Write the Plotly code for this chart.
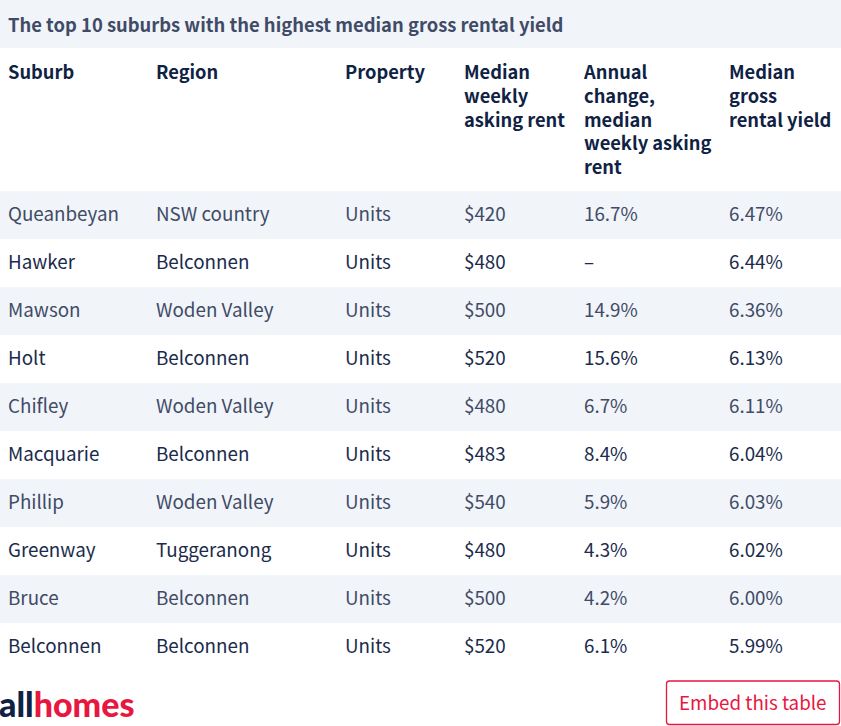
import plotly.graph_objects as go

# table contents
title = "The top 10 suburbs with the highest median gross rental yield"
headers = ["Suburb", "Region", "Property", "Median<br>weekly<br>asking rent",
           "Annual<br>change,<br>median<br>weekly asking<br>rent", "Median<br>gross<br>rental yield"]
suburbs = ["Queanbeyan", "Hawker", "Mawson", "Holt", "Chifley", "Macquarie",
           "Phillip", "Greenway", "Bruce", "Belconnen"]
regions = ["NSW country", "Belconnen", "Woden Valley", "Belconnen", "Woden Valley",
           "Belconnen", "Woden Valley", "Tuggeranong", "Belconnen", "Belconnen"]
properties = ["Units"] * 10
rents = ["$420", "$480", "$500", "$520", "$480", "$483", "$540", "$480", "$500", "$520"]
changes = ["16.7%", "–", "14.9%", "15.6%", "6.7%", "8.4%", "5.9%", "4.3%", "4.2%", "6.1%"]
yields = ["6.47%", "6.44%", "6.36%", "6.13%", "6.11%", "6.04%", "6.03%", "6.02%", "6.00%", "5.99%"]
col_widths = [148, 189, 119, 120, 145, 120]

W, H = 841, 726
FONT = "Noto Sans CJK SC"
NAVY = "#0f2244"
BODY_NAVY = "#1a2b4c"
SLATE = "#3f4b67"
BAND = "#f1f4f8"
RED = "#e8173f"
BODY_SIZE = 18.8


def px(x):
    return x / W


def py(y):
    return 1 - y / H


def body(col):
    # a thin blank first line pushes the text down to the middle of the 48px row
    return [f'<br><span style="font-size:{BODY_SIZE}px">{v}</span>' for v in col]


n = len(suburbs)
row_fill = [BAND if i % 2 == 0 else "white" for i in range(n)]
row_font = [SLATE if i % 2 == 0 else BODY_NAVY for i in range(n)]

fig = go.Figure(go.Table(
    columnwidth=col_widths,
    domain=dict(x=[0, 1], y=[py(672), py(50)]),
    header=dict(
        values=[f"<b>{h}</b>" for h in headers],
        height=141,
        align="left",
        fill_color="white",
        line_width=0,
        font=dict(family=FONT, size=18.3, color=NAVY),
    ),
    cells=dict(
        values=[body(c) for c in [suburbs, regions, properties, rents, changes, yields]],
        height=48,
        align="left",
        fill_color=[row_fill] * 6,
        line_width=0,
        font=dict(family=FONT, size=9.5, color=[row_font] * 6),
    ),
))

# title band, logo and embed button are placed by page pixels
fig.add_shape(type="rect", xref="paper", yref="paper", x0=0, x1=1, y0=py(48), y1=py(0),
              fillcolor=BAND, line_width=0)
fig.add_annotation(xref="paper", yref="paper", x=px(6), y=py(24), text=f"<b>{title}</b>",
                   xanchor="left", yanchor="middle", showarrow=False,
                   font=dict(family=FONT, size=18.4, color=SLATE))
fig.add_annotation(xref="paper", yref="paper", x=px(-3), y=py(703), xanchor="left", yanchor="middle",
                   showarrow=False,
                   text=f'<span style="color:{NAVY}">all</span><span style="color:{RED}">homes</span>',
                   font=dict(family="Lato", size=34, weight=900))

# rounded button outline
bx0, bx1, by0, by1, r = 666.5, 839.5, 681, 724.5, 3
button = (f"M{px(bx0 + r)},{py(by0)} L{px(bx1 - r)},{py(by0)} Q{px(bx1)},{py(by0)} {px(bx1)},{py(by0 + r)} "
          f"L{px(bx1)},{py(by1 - r)} Q{px(bx1)},{py(by1)} {px(bx1 - r)},{py(by1)} "
          f"L{px(bx0 + r)},{py(by1)} Q{px(bx0)},{py(by1)} {px(bx0)},{py(by1 - r)} "
          f"L{px(bx0)},{py(by0 + r)} Q{px(bx0)},{py(by0)} {px(bx0 + r)},{py(by0)} Z")
fig.add_shape(type="path", xref="paper", yref="paper", path=button,
              line=dict(color=RED, width=1.3), fillcolor="white")
fig.add_annotation(xref="paper", yref="paper", x=px(753), y=py(701), text="Embed this table",
                   xanchor="center", yanchor="middle", showarrow=False,
                   font=dict(family=FONT, size=BODY_SIZE, color=RED))

fig.update_layout(
    width=W, height=H,
    margin=dict(l=0, r=0, t=0, b=0),
    paper_bgcolor="white",
    showlegend=False,
)

fig.write_html("out.html", config=dict(displayModeBar=False),
               post_script="document.body.style.margin='0';")
